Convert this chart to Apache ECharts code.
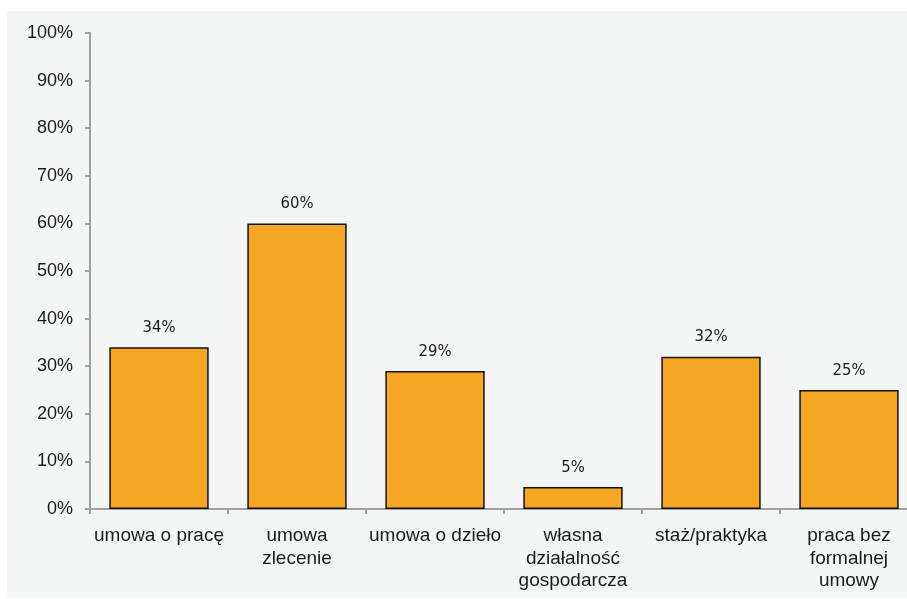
<!DOCTYPE html>
<html><head><meta charset="utf-8">
<script src="https://cdn.jsdelivr.net/npm/echarts@6/dist/echarts.min.js"></script>
<style>
html,body{margin:0;padding:0;background:#fff;width:907px;height:599px;overflow:hidden;}
#bg{position:absolute;left:7px;top:11px;width:900px;height:587px;background:#f4f6f6;}
#c{position:absolute;left:0;top:0;width:907px;height:599px;}
</style></head>
<body><div id="bg"></div><div id="c"></div>
<script>
const categories = ['umowa o pracę','umowa\nzlecenie','umowa o dzieło','własna\ndziałalność\ngospodarcza','staż/praktyka','praca bez\nformalnej\numowy'];
const values = [34, 60, 29, 4.6, 32, 25];
const yTicks = [0,10,20,30,40,50,60,70,80,90,100];

const chart = echarts.init(document.getElementById('c'), null, {renderer:'canvas'});
chart.setOption({
  backgroundColor:'transparent',
  animation:false,
  grid:{left:90, width:828, top:33, bottom:90, containLabel:false, outerBoundsMode:'none'},
  xAxis:{
    type:'category', data:categories,
    axisLine:{lineStyle:{color:'#a0a0a0', width:2}},
    axisTick:{show:true, length:5, lineStyle:{color:'#a0a0a0', width:2}},
    axisLabel:{fontFamily:'Liberation Sans, Arial, sans-serif', fontSize:19, color:'#1a1a1a', margin:16, lineHeight:22.5, interval:0}
  },
  yAxis:{
    type:'value', min:0, max:100, interval:10,
    axisLine:{show:true, lineStyle:{color:'#a0a0a0', width:2}},
    axisTick:{show:true, length:5, lineStyle:{color:'#a0a0a0', width:2}},
    splitLine:{show:false},
    axisLabel:{fontFamily:'Liberation Sans, Arial, sans-serif', fontSize:18, color:'#1a1a1a', margin:17, formatter: v => v + '%'}
  },
  series:[{
    type:'bar', data:values, barWidth:'72%',
    itemStyle:{color:'#f5a623', borderColor:'#111', borderWidth:1.5},
    label:{show:true, position:'top', distance:11, fontFamily:'Liberation Sans Narrow, DejaVu Sans Condensed, Liberation Sans, sans-serif', fontSize:16.5, color:'#1a1a1a', formatter: p => Math.round(p.value) + '%'}
  }]
});
</script></body></html>
